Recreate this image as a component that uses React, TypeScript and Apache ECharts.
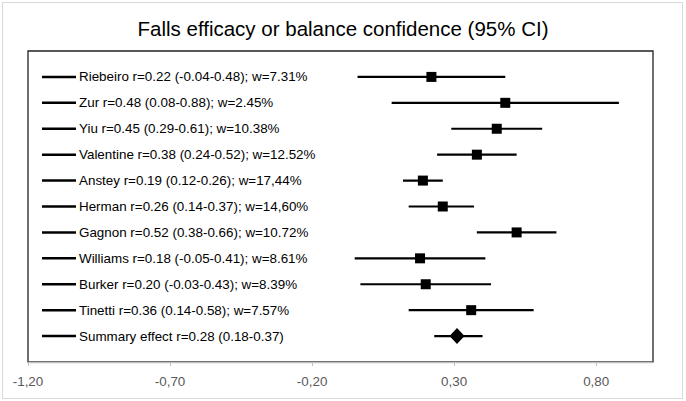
import { useEffect, useRef } from 'react';
import * as echarts from 'echarts';

const chartTitle = 'Falls efficacy or balance confidence (95% CI)';

const studyLabels = [
  'Riebeiro r=0.22 (-0.04-0.48); w=7.31%',
  'Zur r=0.48 (0.08-0.88); w=2.45%',
  'Yiu r=0.45 (0.29-0.61); w=10.38%',
  'Valentine r=0.38 (0.24-0.52); w=12.52%',
  'Anstey r=0.19 (0.12-0.26); w=17,44%',
  'Herman r=0.26 (0.14-0.37); w=14,60%',
  'Gagnon r=0.52 (0.38-0.66); w=10.72%',
  'Williams r=0.18 (-0.05-0.41); w=8.61%',
  'Burker r=0.20 (-0.03-0.43); w=8.39%',
  'Tinetti r=0.36 (0.14-0.58); w=7.57%',
  'Summary effect r=0.28 (0.18-0.37)',
];

const estimates = [0.22, 0.48, 0.45, 0.38, 0.19, 0.26, 0.52, 0.18, 0.2, 0.36, 0.31];
const lowerCI = [-0.04, 0.08, 0.29, 0.24, 0.12, 0.14, 0.38, -0.05, -0.03, 0.14, 0.23];
const upperCI = [0.48, 0.88, 0.61, 0.52, 0.26, 0.37, 0.66, 0.41, 0.43, 0.58, 0.4];
const rowPositions = [11, 10, 9, 8, 7, 6, 5, 4, 3, 2, 1];
const isSummary = [false, false, false, false, false, false, false, false, false, false, true];

const xTicks = [-1.2, -0.7, -0.2, 0.3, 0.8];

const FONT = '"Liberation Sans", Arial, sans-serif';

export default function App() {
  const ref = useRef<HTMLDivElement>(null);

  useEffect(() => {
    if (!ref.current) return;
    const chart = echarts.init(ref.current, null, { renderer: 'svg' });

    const data = estimates.map((e, i) => [e, lowerCI[i], upperCI[i], rowPositions[i]]);

    const renderItem = (params: any, api: any) => {
      const idx = params.dataIndex;
      const est = api.value(0);
      const lo = api.value(1);
      const hi = api.value(2);
      const yv = api.value(3);
      const pLo = api.coord([lo, yv]);
      const pHi = api.coord([hi, yv]);
      const pE = api.coord([est, yv]);
      const cs = params.coordSys;
      const y = pE[1];
      const marker = isSummary[idx]
        ? {
            type: 'polygon',
            shape: {
              points: [
                [pE[0], y - 8],
                [pE[0] + 7.5, y],
                [pE[0], y + 8],
                [pE[0] - 7.5, y],
              ],
            },
            style: { fill: '#000' },
          }
        : {
            type: 'rect',
            shape: { x: pE[0] - 5, y: y - 5, width: 10, height: 10 },
            style: { fill: '#000' },
          };
      return {
        type: 'group',
        children: [
          {
            type: 'line',
            shape: { x1: pLo[0], y1: pLo[1], x2: pHi[0], y2: pHi[1] },
            style: { stroke: '#000', lineWidth: 2.2 },
          },
          marker,
          {
            type: 'line',
            shape: { x1: cs.x + 14, y1: y, x2: cs.x + 48, y2: y },
            style: { stroke: '#000', lineWidth: 2.5 },
          },
          {
            type: 'text',
            style: {
              text: studyLabels[idx],
              x: cs.x + 51,
              y: y,
              align: 'left',
              verticalAlign: 'middle',
              fill: '#000',
              fontSize: 13.4,
              fontFamily: FONT,
            },
          },
        ],
      };
    };

    chart.setOption({
      animation: false,
      backgroundColor: '#fff',
      title: {
        text: chartTitle,
        left: 'center',
        top: 18,
        padding: 0,
        textStyle: {
          fontSize: 20.5,
          fontWeight: 'normal',
          color: '#000',
          fontFamily: FONT,
        },
      },
      grid: {
        left: 28,
        right: 33,
        top: 51,
        bottom: 39,
        show: true,
        borderColor: '#222',
        borderWidth: 1.3,
        backgroundColor: 'transparent',
      },
      xAxis: {
        type: 'value',
        min: -1.2,
        max: 1.0,
        interval: 0.5,
        axisLine: { show: true, lineStyle: { color: '#bfbfbf', width: 1.3 } },
        axisTick: {
          show: true,
          length: 4,
          customValues: xTicks,
          lineStyle: { color: '#bfbfbf' },
        },
        axisLabel: {
          customValues: xTicks,
          formatter: (v: number) => v.toFixed(2).replace('.', ','),
          color: '#595959',
          fontSize: 13.4,
          fontFamily: FONT,
          margin: 13,
        },
        splitLine: { show: false },
      },
      yAxis: {
        type: 'value',
        min: 0,
        max: 12,
        show: false,
        splitLine: { show: false },
      },
      series: [
        {
          type: 'custom',
          renderItem,
          clip: false,
          encode: { x: [0, 1, 2], y: 3 },
          data,
        },
      ],
    });

    return () => chart.dispose();
  }, []);

  return (
    <div
      style={{
        position: 'fixed',
        left: 0,
        top: 0,
        width: 686,
        height: 401,
        background: '#fff',
      }}
    >
      <div ref={ref} style={{ position: 'absolute', left: 0, top: 0, width: 686, height: 401 }} />
      <div
        style={{
          position: 'absolute',
          left: 2,
          top: 2,
          width: 681,
          height: 397,
          border: '1px solid #d9d9d9',
          boxSizing: 'border-box',
          pointerEvents: 'none',
        }}
      />
    </div>
  );
}
